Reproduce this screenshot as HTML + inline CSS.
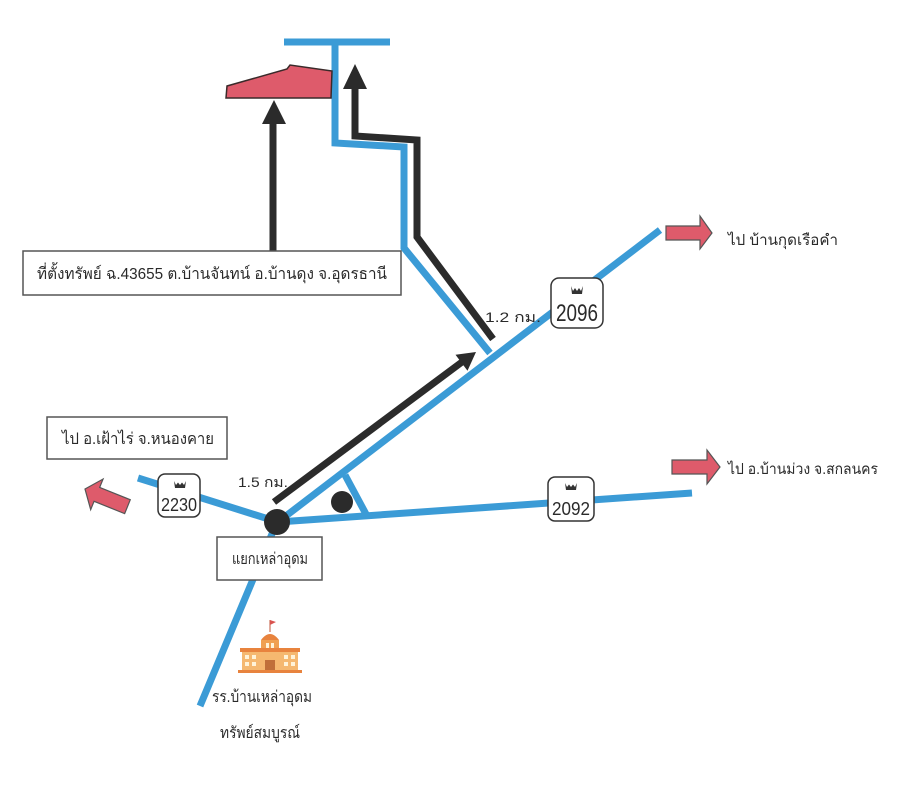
<!DOCTYPE html>
<html><head><meta charset="utf-8"><style>
html,body{margin:0;padding:0;background:#fff;}
svg{display:block;}
text{font-family:"Liberation Sans","DejaVu Sans",sans-serif;fill:#2a2a2a;}
</style></head><body>
<svg width="919" height="800" viewBox="0 0 919 800" xmlns="http://www.w3.org/2000/svg">
<rect width="919" height="800" fill="#fff"/>
<g stroke="#3b9bd6" stroke-width="7" fill="none" stroke-linecap="butt" stroke-linejoin="miter">
  <line x1="284" y1="42" x2="390" y2="42"/>
  <polyline points="335,42 335,143 404,147 404,248 490,353"/>
  <line x1="278" y1="522" x2="660" y2="230"/>
  <line x1="278" y1="522" x2="692" y2="493"/>
  <line x1="278" y1="522" x2="138" y2="478"/>
  <line x1="277" y1="522" x2="200" y2="706"/>
  <line x1="345" y1="475" x2="367" y2="516"/>
</g>
<g stroke="#2b2b2b" stroke-width="7" fill="none">
  <polyline points="355,86 355,136 417,140 417,237 493,339"/>
  <line x1="274" y1="502" x2="462" y2="362"/>
  <line x1="273" y1="251" x2="273" y2="120"/>
</g>
<g fill="#2b2b2b">
  <polygon points="355,64 343,89 367,89"/>
  <polygon points="476,352 467.5,370.7 455.5,354.7"/>
  <polygon points="274,100 262,124 286,124"/>
  <circle cx="277" cy="522" r="13"/>
  <circle cx="342" cy="502" r="11"/>
</g>
<!-- red building shape -->
<path d="M226,98 L227,86 L287,69 L290,65 L332,71 L331,98 Z" fill="#de5b6b" stroke="#3a2a2a" stroke-width="1.5"/>
<!-- red arrows -->
<polygon points="666,226 700,226 700,216 712,233 700,249 700,240 666,240" fill="#de5b6b" stroke="#555" stroke-width="1.2"/>
<polygon points="672,460 707,460 707,450 720,467 707,484 707,474 672,474" fill="#de5b6b" stroke="#555" stroke-width="1.2"/>
<g transform="translate(85,489) rotate(22)">
<polygon points="0,0 13,-16 13,-7 46,-7 46,8 13,8 13,17" fill="#de5b6b" stroke="#555" stroke-width="1.2"/>
</g>
<!-- boxes -->
<rect x="23" y="251" width="378" height="44" fill="#fff" stroke="#555" stroke-width="1.5"/>
<text x="37" y="279" font-size="16" textLength="350" lengthAdjust="spacingAndGlyphs">ที่ตั้งทรัพย์ ฉ.43655 ต.บ้านจันทน์ อ.บ้านดุง จ.อุดรธานี</text>
<rect x="47" y="417" width="180" height="42" fill="#fff" stroke="#555" stroke-width="1.5"/>
<text x="62" y="444" font-size="16" textLength="152" lengthAdjust="spacingAndGlyphs">ไป อ.เฝ้าไร่ จ.หนองคาย</text>
<rect x="217" y="537" width="105" height="43" fill="#fff" stroke="#555" stroke-width="1.5"/>
<text x="232" y="564" font-size="16" textLength="76" lengthAdjust="spacingAndGlyphs">แยกเหล่าอุดม</text>
<!-- signs -->
<g>
  <rect x="551" y="278" width="52" height="50" rx="8" fill="#fff" stroke="#333" stroke-width="1.5"/>
  <path d="M571,286 l2,5 l2,-3 l2,3 l2,-3 l2,3 l2,-5 l-1,8 h-10 z" fill="#333"/>
  <text x="556" y="321" font-size="24" textLength="42" lengthAdjust="spacingAndGlyphs">2096</text>
  <rect x="158" y="474" width="42" height="43" rx="7" fill="#fff" stroke="#333" stroke-width="1.5"/>
  <path d="M174,481 l2,4 l2,-2.5 l2,2.5 l2,-2.5 l2,2.5 l2,-4 l-1,7 h-10 z" fill="#333"/>
  <text x="161" y="511" font-size="18" textLength="36" lengthAdjust="spacingAndGlyphs">2230</text>
  <rect x="548" y="477" width="46" height="44" rx="7" fill="#fff" stroke="#333" stroke-width="1.5"/>
  <path d="M565,483 l2,4 l2,-2.5 l2,2.5 l2,-2.5 l2,2.5 l2,-4 l-1,7 h-10 z" fill="#333"/>
  <text x="552" y="515" font-size="18" textLength="38" lengthAdjust="spacingAndGlyphs">2092</text>
</g>
<!-- labels -->
<text x="485" y="322" font-size="14" textLength="56" lengthAdjust="spacingAndGlyphs">1.2 กม.</text>
<text x="238" y="487" font-size="14" textLength="50" lengthAdjust="spacingAndGlyphs">1.5 กม.</text>
<text x="728" y="245" font-size="15" textLength="110" lengthAdjust="spacingAndGlyphs">ไป บ้านกุดเรือคำ</text>
<text x="728" y="474" font-size="15" textLength="150" lengthAdjust="spacingAndGlyphs">ไป อ.บ้านม่วง จ.สกลนคร</text>
<text x="212" y="702" font-size="16" textLength="100" lengthAdjust="spacingAndGlyphs">รร.บ้านเหล่าอุดม</text>
<text x="220" y="738" font-size="16" textLength="80" lengthAdjust="spacingAndGlyphs">ทรัพย์สมบูรณ์</text>
<!-- school icon -->
<g>
  <line x1="270" y1="620" x2="270" y2="632" stroke="#c0553a" stroke-width="1"/>
  <polygon points="270,620 276,622 270,625" fill="#d9534f"/>
  <path d="M261,640 Q270,628 279,640 Z" fill="#e8833e"/>
  <rect x="261" y="640" width="18" height="12" fill="#f0a050"/>
  <rect x="240" y="648" width="60" height="4" fill="#e8833e"/>
  <rect x="242" y="652" width="56" height="18" fill="#f5b870"/>
  <g fill="#fff3d8">
    <rect x="245" y="655" width="4" height="4"/><rect x="252" y="655" width="4" height="4"/>
    <rect x="284" y="655" width="4" height="4"/><rect x="291" y="655" width="4" height="4"/>
    <rect x="245" y="662" width="4" height="4"/><rect x="252" y="662" width="4" height="4"/>
    <rect x="284" y="662" width="4" height="4"/><rect x="291" y="662" width="4" height="4"/>
    <rect x="266" y="643" width="3" height="5"/><rect x="271" y="643" width="3" height="5"/>
  </g>
  <rect x="265" y="660" width="10" height="10" fill="#c0703a"/>
  <rect x="238" y="670" width="64" height="3" fill="#e8833e"/>
</g>
</svg>
</body></html>
